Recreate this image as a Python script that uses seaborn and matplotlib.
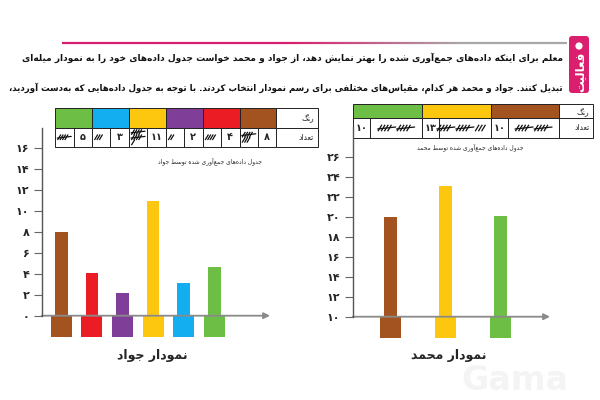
import numpy as np
import pandas as pd
import matplotlib
matplotlib.use("Agg")
import matplotlib.pyplot as plt
import seaborn as sns
from matplotlib.patches import Rectangle, FancyBboxPatch, Circle
from matplotlib.collections import LineCollection

# ---------------- data ----------------
javad_categories = ["قهوه‌ای", "قرمز", "بنفش", "زرد", "آبی", "سبز"]
javad_counts = [8, 4, 2, 11, 3, 5]               # numbers written in Javad's table
javad_bars = [8, 4.1, 2.2, 11, 3.1, 4.7]         # bar heights as drawn in Javad's chart
javad_yticks = [0, 2, 4, 6, 8, 10, 12, 14, 16]

mohammad_categories = ["قهوه‌ای", "زرد", "سبز"]
mohammad_counts = [10, 13, 10]                   # numbers written in Mohammad's table
mohammad_bars = [20, 23.1, 20.1]                 # bar tops as drawn on Mohammad's axis
mohammad_yticks = [10, 12, 14, 16, 18, 20, 22, 24, 26]
mohammad_base = 10

palette = {"قهوه‌ای": "#A3531F", "قرمز": "#EC1C24", "بنفش": "#7F3F98",
           "زرد": "#FDC70F", "آبی": "#12AEEF", "سبز": "#6DBE45"}

line1 = "معلّم برای اینکه داده‌های جمع‌آوری شده را بهتر نمایش دهد، از جواد و محمّد خواست جدول داده‌های خود را به نمودار میله‌ای"
line2 = "تبدیل کنند. جواد و محمّد هر کدام، مقیاس‌های مختلفی برای رسم نمودار انتخاب کردند. با توجّه به جدول داده‌هایی که به‌دست آوردید،"
tab_label = "فعالیت"
hdr_color = "رنگ"
hdr_count = "تعداد"
javad_caption = "جدول داده‌های جمع‌آوری شده توسط جواد"
mohammad_caption = "جدول داده‌های جمع‌آوری شده توسط محمّد"
javad_title = "نمودار جواد"
mohammad_title = "نمودار محمّد"
watermark = "Gama"

# ---------------- Persian shaping helpers ----------------
DUAL = {'ب': 0xFE8F, 'ت': 0xFE95, 'ث': 0xFE99, 'ج': 0xFE9D, 'ح': 0xFEA1, 'خ': 0xFEA5,
        'س': 0xFEB1, 'ش': 0xFEB5, 'ص': 0xFEB9, 'ض': 0xFEBD, 'ط': 0xFEC1, 'ظ': 0xFEC5,
        'ع': 0xFEC9, 'غ': 0xFECD, 'ف': 0xFED1, 'ق': 0xFED5, 'ك': 0xFED9, 'ل': 0xFEDD,
        'م': 0xFEE1, 'ن': 0xFEE5, 'ه': 0xFEE9, 'ي': 0xFEF1, 'ئ': 0xFE89, 'ی': 0xFBFC,
        'ک': 0xFB8E, 'گ': 0xFB92, 'پ': 0xFB56, 'چ': 0xFB7A}
RIGHT = {'ا': 0xFE8D, 'آ': 0xFE81, 'أ': 0xFE83, 'د': 0xFEA9, 'ذ': 0xFEAB, 'ر': 0xFEAD,
         'ز': 0xFEAF, 'و': 0xFEED, 'ژ': 0xFB8A, 'ة': 0xFE93}
LAMALEF = {'ا': 0xFEFB, 'آ': 0xFEF5, 'أ': 0xFEF7}
DIGITS = set("0123456789۰۱۲۳۴۵۶۷۸۹")


def shape(text):
    chars = [c for c in text if not ('\u064B' <= c <= '\u0652' or c == '\u0670')]
    out = []
    i = 0
    n = len(chars)
    while i < n:
        c = chars[i]
        prev = chars[i - 1] if i > 0 else None
        jp = prev in DUAL
        if c == 'ل' and i + 1 < n and chars[i + 1] in LAMALEF:
            base = LAMALEF[chars[i + 1]]
            out.append(chr(base + 1 if jp else base))
            i += 2
            continue
        if c in DUAL or c in RIGHT:
            nxt = chars[i + 1] if i + 1 < n else None
            jn = c in DUAL and (nxt in DUAL or nxt in RIGHT)
            base = DUAL.get(c, RIGHT.get(c))
            if jp and jn:
                f = base + 3
            elif jp:
                f = base + 1
            elif jn:
                f = base + 2
            else:
                f = base
            out.append(chr(f))
        elif c != '\u200c':
            out.append(c)
        i += 1
    # visual order: reverse, but keep digit runs left-to-right
    runs, cur = [], ""
    for ch in out:
        if ch in DIGITS:
            cur += ch
        else:
            if cur:
                runs.append(cur)
                cur = ""
            runs.append(ch)
    if cur:
        runs.append(cur)
    return "".join(reversed(runs))


def fa(num):
    return "".join("۰۱۲۳۴۵۶۷۸۹"[int(d)] for d in str(num))


# ---------------- figure ----------------
sns.set_style("white")
plt.rcParams["font.family"] = ["DejaVu Sans"]
FONT = ["DejaVu Sans"]

W, H = 600, 400
fig = plt.figure(figsize=(6, 4), dpi=100)
fig.patch.set_facecolor("white")
ov = fig.add_axes([0, 0, 1, 1])
ov.set_xlim(0, W)
ov.set_ylim(H, 0)
ov.axis("off")

# header rule with magenta -> gray gradient
xs = np.linspace(62, 567, 120)
segs = [[(xs[k], 43), (xs[k + 1], 43)] for k in range(len(xs) - 1)]
c0 = np.array(matplotlib.colors.to_rgb("#D81E6E"))
c1 = np.array(matplotlib.colors.to_rgb("#A8A8A8"))
tt = np.clip((np.linspace(0, 1, len(segs)) - 0.45) / 0.35, 0, 1)
cols = [tuple(c0 * (1 - t) + c1 * t) for t in tt]
ov.add_collection(LineCollection(segs, colors=cols, linewidths=1.6))

# side tab
ov.add_patch(FancyBboxPatch((569, 36), 20, 57, boxstyle="round,pad=0,rounding_size=3",
                            fc="#DA1F6E", ec="none"))
ov.add_patch(Circle((579, 46), 3.6, fc="white", ec="none"))
ov.text(579.5, 72, shape(tab_label), rotation=90, color="white", fontsize=8.5,
        fontweight="bold", ha="center", va="center", family=FONT)


def fit_text(x_right, y, s, width, size):
    t = ov.text(x_right, y, s, ha="right", va="center", fontsize=size,
                fontweight="bold", family=FONT, color="#111111")
    fig.canvas.draw()
    bb = t.get_window_extent(renderer=fig.canvas.get_renderer())
    t.set_fontsize(size * width / bb.width)
    return t


fit_text(563, 58, shape(line1), 543, 9)
fit_text(563, 88, shape(line2), 558, 9)


# ---------------- tables ----------------
def tally(cx, cy, n, stacked, gw, gh):
    groups = [5] * (n // 5) + ([n % 5] if n % 5 else [])
    ng = len(groups)
    for gi, g in enumerate(groups):
        if stacked:
            gx = cx - gw / 2
            gy = cy + (gi - (ng - 1) / 2) * gh * 0.95
        else:
            gx = cx - (ng * gw + (ng - 1) * 3) / 2 + gi * (gw + 3)
            gy = cy
        step = gw / 5.0
        for k in range(min(g, 4)):
            x = gx + step * (k + 0.4)
            ov.plot([x - gh * 0.3, x + gh * 0.3], [gy + gh / 2, gy - gh / 2],
                    color="#111111", lw=0.9, solid_capstyle="butt")
        if g == 5:
            ov.plot([gx - 1, gx + gw + 1], [gy + gh * 0.15, gy - gh * 0.15],
                    color="#111111", lw=0.9)


def draw_table(x0, cw, hw, ys, cats, counts, num_first, num_w, stacked, gw, gh):
    y0, y1, y2 = ys
    order = list(reversed(range(len(cats))))   # right-to-left layout
    for pos, idx in enumerate(order):
        x = x0 + pos * cw
        ov.add_patch(Rectangle((x, y0), cw, y1 - y0, fc=palette[cats[idx]],
                               ec="#222222", lw=0.7))
        ov.add_patch(Rectangle((x, y1), cw, y2 - y1, fc="white", ec="#222222", lw=0.7))
        if num_first:
            nx0, tx0, tw = x, x + num_w, cw - num_w
        else:
            nx0, tx0, tw = x + cw - num_w, x, cw - num_w
        sep = nx0 + num_w if num_first else nx0
        ov.plot([sep, sep], [y1, y2], color="#222222", lw=0.7)
        ov.text(nx0 + num_w / 2, (y1 + y2) / 2, fa(counts[idx]), ha="center", va="center",
                fontsize=7, fontweight="bold", family=FONT)
        tally(tx0 + tw / 2, (y1 + y2) / 2, counts[idx], stacked, gw, gh)
    xh = x0 + len(cats) * cw
    ov.add_patch(Rectangle((xh, y0), hw, y1 - y0, fc="white", ec="#222222", lw=0.7))
    ov.add_patch(Rectangle((xh, y1), hw, y2 - y1, fc="white", ec="#222222", lw=0.7))
    ov.text(xh + hw - 4, (y0 + y1) / 2, shape(hdr_color), ha="right", va="center",
            fontsize=5.5, family=FONT)
    ov.text(xh + hw - 4, (y1 + y2) / 2, shape(hdr_count), ha="right", va="center",
            fontsize=5.5, family=FONT)


draw_table(55, 36.9, 41.5, (108, 127.5, 147), javad_categories, javad_counts,
           num_first=False, num_w=18.4, stacked=True, gw=12, gh=5.5)
draw_table(353.3, 68.7, 34, (104.3, 118.3, 137.7), mohammad_categories, mohammad_counts,
           num_first=True, num_w=17, stacked=False, gw=16, gh=6.5)

ov.text(210, 161, shape(javad_caption), ha="center", va="center", fontsize=4.3, family=FONT)
ov.text(470, 147.5, shape(mohammad_caption), ha="center", va="center", fontsize=4.3, family=FONT)

ov.text(152, 355, shape(javad_title), ha="center", va="center", fontsize=9,
        fontweight="bold", family=FONT)
ov.text(449, 355, shape(mohammad_title), ha="center", va="center", fontsize=9,
        fontweight="bold", family=FONT)
ov.text(515, 381, watermark, ha="center", va="center", fontsize=24, fontweight="bold",
        color="#F4F4F4", family=FONT, zorder=0)


# ---------------- bar charts ----------------
def make_axes(left, right, top, bottom):
    ax = fig.add_axes([left / W, 1 - bottom / H, (right - left) / W, (bottom - top) / H])
    ax.set_facecolor("none")
    return ax


def style_axes(ax, cats, base, yticks, xlim, ylim):
    ax.set_xlim(*xlim)
    ax.set_ylim(*ylim)
    for s in ["top", "right", "bottom"]:
        ax.spines[s].set_visible(False)
    ax.spines["left"].set_color("#555555")
    ax.spines["left"].set_linewidth(1.0)
    ax.spines["left"].set_bounds(base, ylim[1])
    ax.set_yticks(yticks)
    ax.set_yticklabels([fa(v) for v in yticks], fontweight="bold", fontsize=8, family=FONT)
    ax.tick_params(axis="y", direction="out", length=6, width=0.8, color="#666666", pad=3,
                   left=True)
    ax.set_xticks([])
    ax.set_xlabel("")
    ax.set_ylabel("")
    ax.annotate("", xy=(xlim[1], base), xytext=(xlim[0], base), xycoords="data",
                arrowprops=dict(arrowstyle="-|>", color="#8A8A8A", lw=1.3, mutation_scale=9,
                                shrinkA=0, shrinkB=0),
                annotation_clip=False, zorder=1)


# Javad
axj = make_axes(41.7, 270, 128, 336.7)
dfj = pd.DataFrame({"color": javad_categories, "value": javad_bars})
sns.barplot(data=dfj, x="color", y="value", hue="color", order=javad_categories,
            palette=palette, width=0.41, saturation=1, legend=False, linewidth=0, ax=axj)
BLOCK_DEPTH_J = 2.0
dfjb = pd.DataFrame({"color": javad_categories, "value": [-BLOCK_DEPTH_J] * len(javad_categories)})
sns.barplot(data=dfjb, x="color", y="value", hue="color", order=javad_categories,
            palette=palette, width=0.69, saturation=1, legend=False, linewidth=0, ax=axj)
style_axes(axj, javad_categories, 0, javad_yticks, (-0.64, 6.82), (-2.01, 17.96))

# Mohammad
axm = make_axes(352.7, 550, 127, 338)
dfm = pd.DataFrame({"color": mohammad_categories, "value": mohammad_bars})
sns.barplot(data=dfm, x="color", y="value", hue="color", order=mohammad_categories,
            palette=palette, width=0.23, saturation=1, legend=False, linewidth=0, ax=axm)
dfmb = pd.DataFrame({"color": mohammad_categories, "value": [mohammad_base] * len(mohammad_categories)})
sns.barplot(data=dfmb, x="color", y="value", hue="color", order=mohammad_categories,
            palette=palette, width=0.38, saturation=1, legend=False, linewidth=0, ax=axm)
style_axes(axm, mohammad_categories, mohammad_base, mohammad_yticks, (-0.681, 2.893), (7.87, 28.97))

fig.savefig("out.png", dpi=100, facecolor="white")
